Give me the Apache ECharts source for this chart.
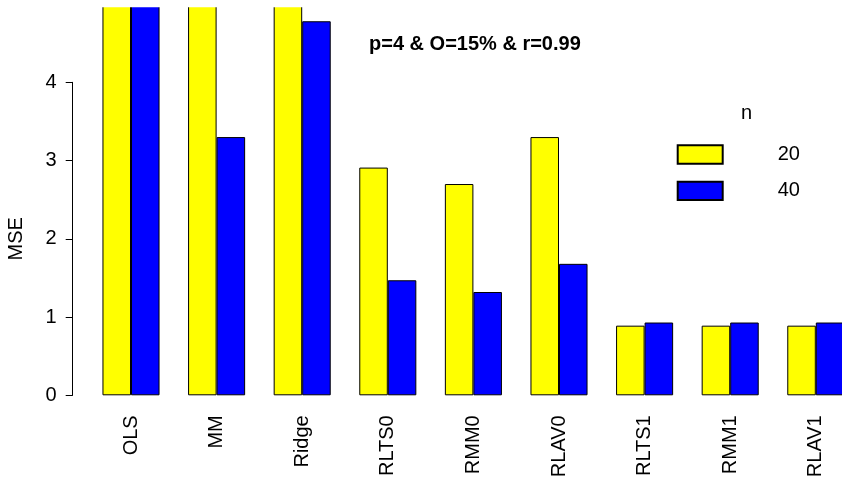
<!DOCTYPE html>
<html>
<head>
<meta charset="utf-8">
<script src="https://cdn.jsdelivr.net/npm/echarts@6/dist/echarts.min.js"></script>
<style>
  html, body { margin: 0; padding: 0; background: #fff; }
  #chart { width: 842px; height: 486px; }
</style>
</head>
<body>
<div id="chart"></div>
<script>
// Estimators compared in the simulation
const categories = ['OLS', 'MM', 'Ridge', 'RLTS0', 'RMM0', 'RLAV0', 'RLTS1', 'RMM1', 'RLAV1'];
// MSE for sample size n = 20 and n = 40 (OLS, MM and Ridge at n=20, and OLS at n=40, run off the top of the axis)
const mseN20 = [9.8, 5.9, 7.2, 2.91, 2.70, 3.30, 0.89, 0.89, 0.89];
const mseN40 = [5.6, 3.30, 4.78, 1.47, 1.32, 1.68, 0.93, 0.93, 0.93];
const seriesNames = ['20', '40'];
const yTicks = [0, 1, 2, 3, 4];

const FONT = "'Liberation Sans', Arial, Helvetica, sans-serif";
const PX_PER_UNIT = 78.25;
const BASE_Y = 395.3;
const PLOT_LEFT = 88.2;
const BAND = 85.6;
const PLOT_W = BAND * categories.length;
const VIEW_MAX = 5.4;

const chart = echarts.init(document.getElementById('chart'), null, { renderer: 'canvas' });

const barStyle = (color) => ({ color: color, borderColor: '#000', borderWidth: 1 });

chart.setOption({
  backgroundColor: '#fff',
  animation: false,
  textStyle: { fontFamily: FONT },
  title: [
    {
      text: 'p=4 & O=15% & r=0.99',
      left: 369, top: 34,
      padding: 0,
      textStyle: { fontFamily: FONT, fontSize: 20, fontWeight: 'bold', color: '#000' }
    },
    {
      text: 'n',
      left: 741, top: 103,
      padding: 0,
      textStyle: { fontFamily: FONT, fontSize: 20, fontWeight: 'normal', color: '#000' }
    }
  ],
  legend: {
    data: seriesNames,
    orient: 'vertical',
    left: 676.7, top: 144.3,
    padding: 0,
    itemWidth: 45, itemHeight: 18.4, itemGap: 16,
    icon: 'rect',
    formatter: '{a|{name}}',
    textStyle: {
      fontFamily: FONT, fontSize: 20, color: '#000', lineHeight: 18,
      rich: { a: { fontFamily: FONT, fontSize: 20, color: '#000', lineHeight: 18, padding: [0, 0, 0, 50] } }
    }
  },
  grid: [
    // bar area (extends above the visible figure so tall bars run off the top)
    {
      left: PLOT_LEFT, width: PLOT_W, top: BASE_Y - VIEW_MAX * PX_PER_UNIT, height: VIEW_MAX * PX_PER_UNIT,
      outerBoundsMode: 'none', containLabel: false
    },
    // axis frame spanning the labelled ticks 0..4
    {
      left: PLOT_LEFT, width: PLOT_W, top: BASE_Y - 4 * PX_PER_UNIT, height: 4 * PX_PER_UNIT,
      outerBoundsMode: 'none', containLabel: false
    }
  ],
  xAxis: [
    {
      type: 'category', gridIndex: 0, data: categories,
      axisLine: { show: false }, axisTick: { show: false },
      axisLabel: {
        rotate: 90, fontFamily: FONT, fontSize: 20, color: '#000', margin: 20, interval: 0,
        padding: [4, 0, 0, 0]
      }
    },
    { type: 'category', gridIndex: 1, data: categories, show: false }
  ],
  yAxis: [
    { type: 'value', gridIndex: 0, min: 0, max: VIEW_MAX, show: false, splitLine: { show: false } },
    {
      type: 'value', gridIndex: 1, min: yTicks[0], max: yTicks[yTicks.length - 1], interval: 1,
      offset: PLOT_LEFT - 72.7,
      name: 'MSE', nameLocation: 'middle', nameGap: 46, nameRotate: 90,
      nameTextStyle: { fontFamily: FONT, fontSize: 20, color: '#000' },
      axisLine: { show: true, lineStyle: { color: '#000', width: 1 } },
      axisTick: { show: true, length: 7, lineStyle: { color: '#000', width: 1 } },
      axisLabel: { fontFamily: FONT, fontSize: 20, color: '#000', margin: 16 },
      splitLine: { show: false }
    }
  ],
  series: [
    {
      name: seriesNames[0], type: 'bar', xAxisIndex: 0, yAxisIndex: 0,
      data: mseN20, barWidth: BAND / 3, barGap: '0%', clip: true,
      itemStyle: barStyle('#FFFF00')
    },
    {
      name: seriesNames[1], type: 'bar', xAxisIndex: 0, yAxisIndex: 0,
      data: mseN40, barWidth: BAND / 3, barGap: '0%', clip: true,
      itemStyle: barStyle('#0000FF')
    }
  ],
  graphic: [
    // figure edge: blank strip above the plotting region
    { type: 'rect', left: 0, top: 0, z: 100, shape: { width: 842, height: 7.3 }, style: { fill: '#fff' } }
  ]
});
</script>
</body>
</html>
